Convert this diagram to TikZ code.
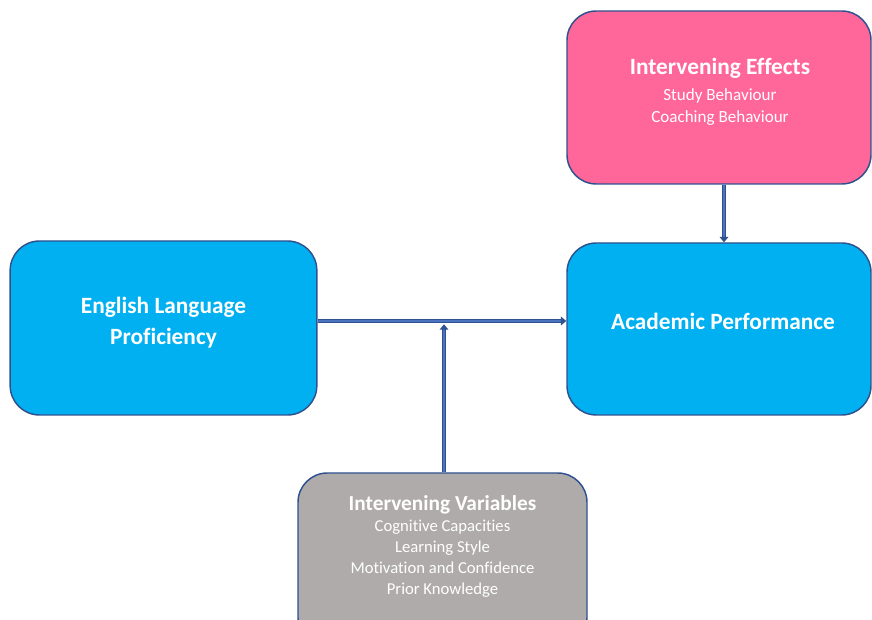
\documentclass[tikz,border=0pt]{standalone}
\usepackage{fontspec}
\setmainfont{Carlito}[Ligatures=NoCommon]
\usepackage{xcolor}
\usetikzlibrary{arrows.meta,positioning}
\definecolor{boxline}{HTML}{2F528F}
\definecolor{cyanbox}{HTML}{00B0F0}
\definecolor{pinkbox}{HTML}{FF6699}
\definecolor{greybox}{HTML}{AFABAB}
\definecolor{linkin}{HTML}{4A74C0}

\begin{document}
\begin{tikzpicture}[x=0.75pt,y=-0.75pt,
  box/.style={rectangle,rounded corners=22pt,draw=boxline,line width=1.1pt,inner sep=0pt},
  txt/.style={text=white,align=center,inner sep=0pt},
  head/.style={font=\fontsize{17.5}{23.25}\selectfont\bfseries},
  link/.style={draw=boxline,line width=0.9pt,double=linkin,double distance=1.7pt,-{Triangle[length=4pt,width=6.5pt]}}]
  \useasboundingbox (0,0) rectangle (872,620);
  \node[box,fill=cyanbox,minimum width=230pt,minimum height=130.5pt] (elp) at (163.5,328){};
  \node[txt,head] (elptext) at (163.5,323){English Language\\Proficiency};
  \node[box,fill=cyanbox,minimum width=228pt,minimum height=129pt] (perf) at (719,329){};
  \node[txt,head] (perftext) at (723,321){Academic Performance};
  \node[box,fill=pinkbox,minimum width=228pt,minimum height=129.75pt] (effects) at (719,97.5){};
  \node[txt,font=\fontsize{12.8}{16.5}\selectfont] (effectstext) at (720,92){{\fontsize{17.5}{19.5}\selectfont\bfseries Intervening Effects}\\[3pt]Study Behaviour\\Coaching Behaviour};
  \node[box,fill=greybox,minimum width=216.75pt,minimum height=130.5pt] (vars) at (442.5,560){};
  \node[txt,font=\fontsize{12.5}{15.75}\selectfont] (varstext) at (442.5,546){{\fontsize{16}{18}\selectfont\bfseries Intervening Variables}\\Cognitive Capacities\\Learning Style\\Motivation and Confidence\\Prior Knowledge};
  \coordinate (junction) at (444,321);
  \coordinate (drop) at (724,0);
  \draw[link] (elp.east |- junction) -- (perf.west |- junction);
  \draw[link] (vars.north -| junction) -- ([yshift=-2.5pt]junction);
  \draw[link] (effects.south -| drop) -- (perf.north -| drop);
\end{tikzpicture}
\end{document}
